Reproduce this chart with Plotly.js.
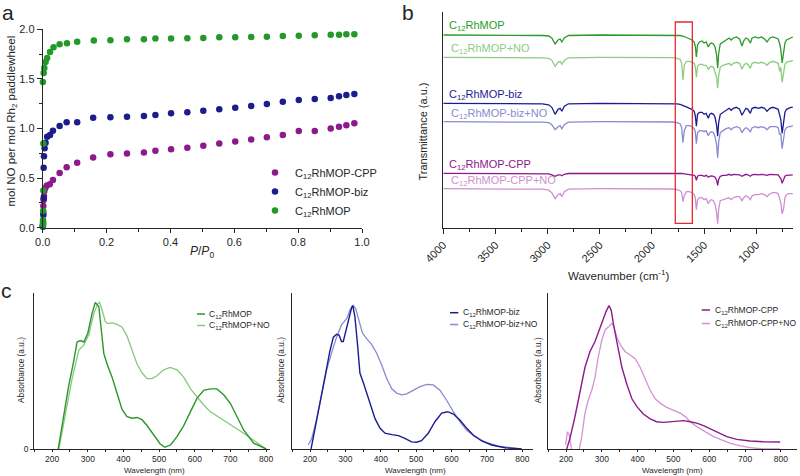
<!DOCTYPE html>
<html><head><meta charset="utf-8">
<script src="https://cdn.plot.ly/plotly-3.0.1.min.js"></script>
<style>html,body{margin:0;padding:0;background:#fff;}#chart{width:800px;height:476px;}</style>
</head><body><div id="chart"></div>
<script>
// ---------- Panel a: NO isotherms ----------
const aNames = ['C<sub>12</sub>RhMOP-CPP', 'C<sub>12</sub>RhMOP-biz', 'C<sub>12</sub>RhMOP'];
const aCppX = [0.0005,0.001,0.002,0.002,0.003,0.004,0.005,0.008,0.013,0.022,0.032,0.053,0.075,0.108,0.158,0.212,0.264,0.317,0.353,0.402,0.453,0.503,0.553,0.603,0.653,0.702,0.752,0.802,0.852,0.902,0.928,0.951,0.976];
const aCppY = [0.02,0.06,0.15,0.22,0.28,0.32,0.37,0.40,0.425,0.437,0.48,0.551,0.61,0.655,0.707,0.74,0.748,0.758,0.775,0.79,0.805,0.825,0.848,0.868,0.89,0.912,0.935,0.975,0.975,1.0,1.017,1.032,1.052];
const aBizX = [0.0005,0.001,0.002,0.003,0.003,0.004,0.006,0.009,0.014,0.023,0.032,0.053,0.075,0.108,0.158,0.212,0.264,0.317,0.353,0.402,0.453,0.503,0.553,0.603,0.653,0.702,0.752,0.802,0.852,0.902,0.928,0.951,0.976];
const aBizY = [0.01,0.03,0.128,0.296,0.605,0.72,0.80,0.857,0.918,0.934,0.978,1.025,1.062,1.062,1.109,1.113,1.119,1.126,1.136,1.153,1.163,1.18,1.193,1.21,1.227,1.247,1.27,1.287,1.297,1.308,1.324,1.338,1.348];
const aMopX = [0.0005,0.001,0.001,0.0015,0.002,0.002,0.0005,0.003,0.005,0.009,0.014,0.023,0.034,0.053,0.076,0.108,0.16,0.212,0.264,0.317,0.353,0.402,0.453,0.503,0.553,0.603,0.653,0.702,0.752,0.802,0.852,0.902,0.928,0.951,0.976];
const aMopY = [0.017,0.044,0.077,0.17,0.376,0.85,1.47,1.56,1.61,1.67,1.71,1.77,1.82,1.85,1.86,1.875,1.886,1.89,1.90,1.90,1.906,1.906,1.909,1.913,1.919,1.919,1.923,1.926,1.933,1.936,1.94,1.946,1.946,1.95,1.95];

// ---------- Panel b: IR spectra (depth below each trace's baseline) ----------
const irNames = ['C<sub>12</sub>RhMOP','C<sub>12</sub>RhMOP+NO','C<sub>12</sub>RhMOP-biz','C<sub>12</sub>RhMOP-biz+NO','C<sub>12</sub>RhMOP-CPP','C<sub>12</sub>RhMOP-CPP+NO'];
const irOffset = [193.3, 171, 125, 106.6, 55, 39.6];
const irWn = [4000,3600,3200,3050,2990,2960,2928,2900,2880,2864,2840,2800,
  2500,2200,1900,1800,1760,1730,1715,1703,1690,1670,1640,1615,
  1595,1585,1574,1563,1545,1520,1500,1480,1460,1445,1430,1410,
  1395,1380,1370,1360,1345,1320,1290,1260,1240,1220,1190,1160,
  1137,1120,1100,1080,1057,1040,1010,980,950,920,897,870,
  840,810,790,775,765,752,738,725,710,690,670,650];
const irMop = [0,0,0,0.5,1,3,9,5,4,7,3,0.5,
  0,0,0,0,0.3,0.5,0.8,1,1.5,2.5,4,5,
  7,11,22,10,7,6,8,7,12,9,8,9,
  12,20,33,18,9,7,5,3,5,3,2,4,
  11,6,3,4,8,3,2,3,2,4,7,3,
  2,3,4,9,14,28,18,8,5,4,3,2];
const irMopNO = [0,0,0,0.5,1,3,9,5,4,7,3,0.5,
  0,0,0,0.3,1,2,6,23,8,4,4,5,
  6,9,20,9,7,7,8,8,12,10,9,10,
  14,20,31,18,10,8,7,6,8,6,5,6,
  12,8,6,7,11,6,5,6,5,6,8,5,
  4,5,6,14,10,25,16,7,5,4,4,3];
const irBiz = [0,0,0,0.5,1.5,4,11,6,5,8,3,0.5,
  0,0,0,0,0.5,1,1.5,2,2.5,3.5,5,6,
  8,12,23,11,9,9,11,10,15,11,10,11,
  14,22,33,19,11,9,7,5,7,5,4,6,
  12,8,5,6,10,5,4,5,4,5,8,5,
  4,5,6,12,16,30,20,9,6,5,4,4];
const irBizNO = [0,0,0,0.5,1,3,8,5,4,7,3,0.5,
  0,0,0,0.3,1,2,6,21,9,4,4,5,
  7,10,22,11,9,9,10,9,14,11,10,11,
  15,23,36,20,11,9,7,6,8,6,5,6,
  11,8,6,7,10,6,5,6,5,6,8,5,
  5,5,6,13,12,27,17,8,6,5,5,4];
const irCpp = [0,0,0,0.3,0.5,1.5,3,1.5,1.5,2.5,1,0.2,
  0,0,0,0,0,0,0.2,0.3,0.5,0.7,1,1.5,
  2,3,7,3,2,2,3,2,4,3,2.5,3,
  4,7,12,6,3,2,2,1,2,1,1,1.5,
  3,2,1,1.5,3,1.5,1,1.5,1,1.5,2,1,
  1,1,1.5,4,5,10,6,3,2,2,1.5,1.5];
const irCppNO = [0,0,0,0.5,1.5,4,10,6,5,8,3,0.5,
  0,0,0,0.3,1,2,4,13,7,3,3,4,
  6,9,21,11,9,9,11,10,15,12,11,12,
  16,24,35,20,12,11,10,9,11,9,8,8,
  12,9,7,8,11,7,6,6,5,6,8,5,
  4,4,5,12,14,25,20,9,6,5,5,5];
const irBox = [1776, 1613];

// ---------- Panel c: UV-vis ----------
const c1W1 = [217,232,246,259,270,279,289,300,312,321,331,337,345,354,368,382,396,410,425,438,452,466,485,503,516,532,550,569,588,606,625,643,662,681,700,718,737,765,793,800];
const c1A1 = [0,0.22,0.425,0.58,0.73,0.74,0.73,0.79,0.925,1.0,0.97,0.83,0.65,0.58,0.49,0.38,0.27,0.22,0.21,0.215,0.20,0.16,0.095,0.034,0.012,0.027,0.084,0.16,0.255,0.345,0.40,0.41,0.41,0.37,0.31,0.22,0.13,0.04,0.005,0];
const c1W2 = [219,237,256,275,289,303,317,328,333,340,349,356,368,382,396,410,424,438,452,466,480,494,513,531,550,569,588,606,625,643,662,681,709,737,765,793,800];
const c1A2 = [0,0.24,0.48,0.675,0.71,0.78,0.925,0.99,1.0,0.95,0.87,0.855,0.86,0.85,0.83,0.77,0.675,0.58,0.52,0.48,0.48,0.50,0.54,0.557,0.54,0.49,0.41,0.357,0.30,0.255,0.227,0.198,0.152,0.107,0.057,0.009,0];
const c2W1 = [203,214,228,242,256,266,275,282,289,294,301,310,318,321,327,335,341,351,360,372,384,398,412,431,450,468,487,501,515,534,553,572,589,605,624,643,661,685,713,751,798];
const c2A1 = [0,0.13,0.32,0.50,0.68,0.78,0.80,0.795,0.75,0.75,0.82,0.92,0.99,1.0,0.92,0.71,0.53,0.46,0.39,0.295,0.21,0.144,0.11,0.10,0.093,0.074,0.05,0.047,0.058,0.11,0.19,0.25,0.26,0.244,0.20,0.144,0.098,0.056,0.028,0.009,0];
const c2W2 = [195,205,219,233,247,261,275,289,304,313,322,329,338,348,360,374,388,402,417,431,445,459,473,492,511,530,548,567,586,605,624,643,666,694,732,770,798];
const c2A2 = [0.028,0.074,0.21,0.39,0.55,0.67,0.78,0.865,0.91,0.97,1.0,0.98,0.89,0.81,0.77,0.73,0.67,0.59,0.49,0.42,0.39,0.377,0.384,0.41,0.435,0.45,0.447,0.41,0.34,0.26,0.19,0.13,0.086,0.05,0.02,0.007,0];
const c3W1 = [202,211,225,239,253,267,281,290,300,312,320,326,334,344,356,370,384,398,416,435,453,472,491,509,528,547,565,584,603,626,649,677,714,752,798];
const c3A1 = [0,0.074,0.225,0.41,0.57,0.68,0.75,0.81,0.88,0.96,1.0,0.97,0.85,0.71,0.57,0.45,0.35,0.295,0.244,0.21,0.19,0.186,0.19,0.195,0.198,0.19,0.18,0.163,0.14,0.11,0.086,0.067,0.056,0.051,0.049];
const c3W2 = [199,204,209,214,218,226,232,237,244,253,262,272,281,290,300,309,318,328,334,342,351,365,379,393,407,421,435,449,463,481,500,519,533,547,565,584,607,631,659,687,714,752,798];
const c3A2 = [0.028,0.12,0.098,0.028,-0.04,-0.08,-0.04,0,0.086,0.25,0.34,0.41,0.50,0.64,0.76,0.83,0.85,0.877,0.85,0.78,0.73,0.68,0.656,0.63,0.57,0.49,0.41,0.35,0.32,0.29,0.27,0.25,0.226,0.19,0.156,0.126,0.093,0.067,0.04,0.021,0.009,0,0];

// ---------- styling ----------
const FONT = 'Liberation Sans, Arial, sans-serif';
const AX = '#262626';
const colA = ['#8c1a8c', '#1c1c8e', '#23992a'];
const colIR = ['#2a9a2a', '#8dcc82', '#1c1c8e', '#8a8ad2', '#8c168c', '#d08fd0'];
const colC = [['#2a962a','#86c97c'], ['#1c1c90','#8a8ad0'], ['#8c1a8c','#d592d5']];
const P = px => px / 800;
const Q = py => 1 - py / 476;

const traces = [];
[[aCppX,aCppY],[aBizX,aBizY],[aMopX,aMopY]].forEach((s,i)=>{
  traces.push({type:'scatter', mode:'markers', x:s[0], y:s[1], name:aNames[i],
    xaxis:'x', yaxis:'y', cliponaxis:false, legend:'legend',
    marker:{size:6.5, color:colA[i], line:{width:0}}});
});
[irMop, irMopNO, irBiz, irBizNO, irCpp, irCppNO].forEach((d,i)=>{
  traces.push({type:'scatter', mode:'lines', x:irWn, y:d.map(v=>irOffset[i]-v),
    name:irNames[i], xaxis:'x2', yaxis:'y2', showlegend:false,
    line:{color:colIR[i], width:1.3}});
});
const cSets = [[c1W1,c1A1,c1W2,c1A2,'x3','y3'],[c2W1,c2A1,c2W2,c2A2,'x4','y4'],[c3W1,c3A1,c3W2,c3A2,'x5','y5']];
const cNames = [['C<sub>12</sub>RhMOP','C<sub>12</sub>RhMOP+NO'],['C<sub>12</sub>RhMOP-biz','C<sub>12</sub>RhMOP-biz+NO'],['C<sub>12</sub>RhMOP-CPP','C<sub>12</sub>RhMOP-CPP+NO']];
cSets.forEach((s,i)=>{
  traces.push({type:'scatter', mode:'lines', x:s[2], y:s[3], name:cNames[i][1], xaxis:s[4], yaxis:s[5], showlegend:false, line:{color:colC[i][1], width:1.3}});
  traces.push({type:'scatter', mode:'lines', x:s[0], y:s[1], name:cNames[i][0], xaxis:s[4], yaxis:s[5], showlegend:false, line:{color:colC[i][0], width:1.4}});
});

const baseAx = {showline:true, linecolor:AX, linewidth:1, ticks:'outside', tickcolor:AX, tickwidth:1,
  showgrid:false, zeroline:false, tickfont:{family:FONT, color:AX}};
function ax(o){ return Object.assign({}, baseAx, o); }
const cTick = {family:FONT,size:8.5,color:AX};

const layout = {
  width:800, height:476, margin:{l:0,r:0,t:0,b:0},
  paper_bgcolor:'#fff', plot_bgcolor:'rgba(0,0,0,0)',
  font:{family:FONT, color:AX},
  xaxis: ax({domain:[P(42.7),P(362)], range:[0,1], anchor:'y', dtick:0.2, tick0:0, tickformat:'.1f', ticklen:4,
    tickfont:{family:FONT,size:11,color:AX}, minor:{ticks:'outside', dtick:0.1, ticklen:3, tickcolor:AX, showgrid:false}}),
  yaxis: ax({domain:[Q(227.7),Q(29.3)], range:[0,2], anchor:'x', dtick:0.5, tick0:0, tickformat:'.1f', ticklen:5,
    tickfont:{family:FONT,size:11,color:AX}, minor:{ticks:'outside', dtick:0.25, ticklen:3, tickcolor:AX, showgrid:false}}),
  xaxis2: ax({domain:[P(443.3),P(793.3)], range:[4000,645], anchor:'y2', dtick:500, tick0:0, tickangle:-45, ticklen:5,
    tickfont:{family:FONT,size:11,color:AX}, minor:{ticks:'outside', dtick:250, ticklen:3, tickcolor:AX, showgrid:false}}),
  yaxis2: ax({domain:[Q(228.3),Q(12)], range:[0,216.3], anchor:'x2', ticks:'', showticklabels:false}),
  xaxis3: ax({domain:[P(34.3),P(270.4)], range:[150,812], anchor:'y3', dtick:100, tick0:0, ticklen:2,
    tickfont:cTick, minor:{ticks:'outside', dtick:50, ticklen:2, tickcolor:AX, showgrid:false}}),
  yaxis3: ax({domain:[Q(449),Q(292.7)], range:[0,1.066], anchor:'x3', tickvals:[0], ticktext:['0'], ticklen:3,
    tickfont:cTick}),
  xaxis4: ax({domain:[P(292.3),P(533)], range:[150,830], anchor:'y4', dtick:100, tick0:0, ticklen:2,
    tickfont:cTick, minor:{ticks:'outside', dtick:50, ticklen:2, tickcolor:AX, showgrid:false}}),
  yaxis4: ax({domain:[Q(449),Q(292.7)], range:[0,1.09], anchor:'x4', ticks:'', showticklabels:false}),
  xaxis5: ax({domain:[P(548.1),P(797)], range:[150,845], anchor:'y5', dtick:100, tick0:0, ticklen:2,
    tickfont:cTick, minor:{ticks:'outside', dtick:50, ticklen:2, tickcolor:AX, showgrid:false}}),
  yaxis5: ax({domain:[Q(449),Q(292.7)], range:[0,1.09], anchor:'x5', ticks:'', showticklabels:false}),
  legend:{x:P(255), y:Q(158), xanchor:'left', yanchor:'top', bgcolor:'rgba(0,0,0,0)', borderwidth:0,
    font:{family:FONT, size:11, color:AX}, traceorder:'normal', itemclick:false},
  showlegend:true,
  shapes:[], annotations:[]
};

// red box on IR panel
layout.shapes.push({type:'rect', xref:'x2', yref:'y2', x0:irBox[0], x1:irBox[1], y0:5, y1:206.3,
  line:{color:'#e8282e', width:1.3}, fillcolor:'rgba(0,0,0,0)'});

function txt(text, px, py, size, opts){
  layout.annotations.push(Object.assign({text:text, xref:'paper', yref:'paper', x:P(px), y:Q(py),
    showarrow:false, xanchor:'center', yanchor:'middle', borderpad:0,
    font:{family:FONT, size:size, color:AX}}, opts||{}));
}
// panel letters
txt('a', 1, 0, 21, {xanchor:'left', yanchor:'top'});
txt('b', 401, 0, 21, {xanchor:'left', yanchor:'top'});
txt('c', 0, 290, 21, {xanchor:'left'});
// axis titles
txt('mol NO per mol Rh<sub>2</sub> paddlewheel', 11.5, 121, 11.5, {textangle:-90});
txt('<i>P</i>/<i>P</i><sub>0</sub>', 202, 252, 12);
txt('Transmittance (a.u.)', 422.5, 131, 11, {textangle:-90});
txt('Wavenumber (cm<sup>-1</sup>)', 618, 275, 11.5);
[[154,21],[415.5,281],[672.5,538.3]].forEach(p=>{
  txt('Wavelength (nm)', p[0], 470.5, 8);
  txt('Absorbance (a.u.)', p[1], 370, 8.3, {textangle:-90});
});
// IR labels
const irLab = [[447.7,26],[450,49.5],[447.7,95],[450,114],[447.7,165],[450,181]];
irLab.forEach((p,i)=> txt(irNames[i], p[0], p[1], 11, {xanchor:'left', font:{family:FONT,size:11,color:colIR[i]}}));
// UV-vis legends
const cLeg = [[197,205,208,314,325.5],[450,458.3,462,312.7,324.5],[701.7,710,714,310,323.5]];
cLeg.forEach((g,i)=>{
  [0,1].forEach(k=>{
    const py = g[3+k];
    layout.shapes.push({type:'line', xref:'paper', yref:'paper', x0:P(g[0]), x1:P(g[1]), y0:Q(py), y1:Q(py),
      line:{color:colC[i][k], width:1.5}});
    txt(cNames[i][k], g[2], py, 8.5, {xanchor:'left'});
  });
});

Plotly.newPlot('chart', traces, layout, {displayModeBar:false, staticPlot:true});
</script>
</body></html>
